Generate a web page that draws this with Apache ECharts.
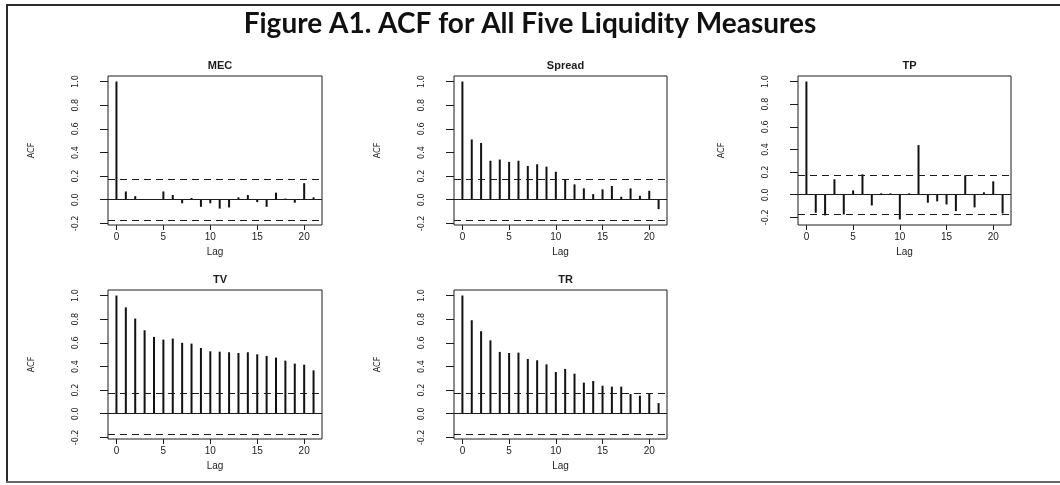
<!DOCTYPE html>
<html>
<head>
<meta charset="utf-8">
<script src="https://cdn.jsdelivr.net/npm/echarts@6/dist/echarts.min.js"></script>
<style>
html,body{margin:0;padding:0;background:#fff;}
#chart{width:1060px;height:485px;}
</style>
</head>
<body>
<div id="chart"></div>
<script>
// ---- data ----
const lags = [0,1,2,3,4,5,6,7,8,9,10,11,12,13,14,15,16,17,18,19,20,21];
const panelNames = ['MEC','Spread','TP','TV','TR'];
const mecAcf = [1.0,0.07,0.03,0.0,0.0,0.07,0.04,-0.03,0.015,-0.06,-0.03,-0.075,-0.065,0.02,0.04,-0.02,-0.06,0.06,0.01,-0.025,0.14,0.02];
const spreadAcf = [1.0,0.51,0.48,0.33,0.34,0.32,0.33,0.285,0.30,0.28,0.237,0.172,0.13,0.096,0.048,0.088,0.116,0.025,0.096,0.034,0.076,-0.079];
const tpAcf = [1.0,-0.16,-0.183,0.136,-0.175,0.038,0.18,-0.095,0.012,0.012,-0.219,0.012,0.438,-0.071,-0.059,-0.086,-0.145,0.172,-0.112,0.021,0.118,-0.166];
const tvAcf = [1.0,0.90,0.805,0.706,0.65,0.627,0.636,0.60,0.593,0.556,0.528,0.525,0.52,0.514,0.52,0.503,0.489,0.475,0.449,0.424,0.415,0.367];
const trAcf = [1.0,0.791,0.698,0.621,0.523,0.514,0.517,0.463,0.452,0.418,0.353,0.379,0.339,0.263,0.277,0.237,0.229,0.229,0.167,0.153,0.167,0.09];
const ciBound = 0.167;
const yTicks = [-0.2,0.0,0.2,0.4,0.6,0.8,1.0];
const xTicks = [0,5,10,15,20];
const titleText = 'Figure A1. ACF for All Five Liquidity Measures';

const allAcf = [mecAcf, spreadAcf, tpAcf, tvAcf, trAcf];

// ---- layout ----
const grids = [
  {left:108, top:76,  width:214, height:149},
  {left:454, top:76,  width:213, height:149},
  {left:798, top:76,  width:213, height:149},
  {left:108, top:290, width:214, height:149},
  {left:454, top:290, width:213, height:149}
];
// R-style limits: range extended by 4%
function yLimits(arr){
  const lo = Math.min(-ciBound, Math.min.apply(null, arr));
  const hi = 1.0;
  const ext = (hi - lo) * 0.04;
  return [lo - ext, hi + ext];
}
const xLo = -0.9, xHi = 21.9;
const ink = '#1c1c1c';
const axisFont = '"Liberation Sans", Arial, sans-serif';
const narrowFont = '"Liberation Sans Narrow", "DejaVu Sans Condensed", "Liberation Sans", sans-serif';

const option = {
  animation: false,
  backgroundColor: '#fff',
  title: [{
    text: titleText,
    left: 'center',
    top: 5,
    textStyle: {fontFamily: 'Lato, "Open Sans", sans-serif', fontWeight: 'bold', fontSize: 28, color: '#111'}
  }].concat(panelNames.map((n, i) => ({
    text: n,
    left: grids[i].left + grids[i].width / 2,
    top: grids[i].top - 21,
    textAlign: 'center',
    textStyle: {fontFamily: axisFont, fontWeight: 'bold', fontSize: 11, color: ink}
  }))),
  grid: grids.map(g => Object.assign({show: true, borderColor: ink, borderWidth: 1, backgroundColor: 'transparent'}, g)),
  xAxis: grids.map((g, i) => ({
    type: 'value', gridIndex: i, min: xLo, max: xHi,
    axisLine: {show: false, onZero: false},
    splitLine: {show: false},
    axisTick: {show: true, customValues: xTicks, length: 5, lineStyle: {color: ink}},
    axisLabel: {show: true, customValues: xTicks, margin: 7, fontSize: 10, color: ink, fontFamily: axisFont},
    name: 'Lag', nameLocation: 'middle', nameGap: 22,
    nameTextStyle: {fontSize: 10, color: ink, fontFamily: axisFont}
  })),
  yAxis: grids.map((g, i) => {
    const lim = yLimits(allAcf[i]);
    return {
      type: 'value', gridIndex: i, min: lim[0], max: lim[1],
      axisLine: {show: false, onZero: false},
      splitLine: {show: false},
      axisTick: {show: true, customValues: yTicks, length: 8, lineStyle: {color: ink}},
      axisLabel: {show: true, customValues: yTicks, rotate: 90, margin: 28, fontSize: 9, color: ink,
        fontFamily: narrowFont, formatter: v => Number(v).toFixed(1)},
      name: 'ACF', nameLocation: 'middle', nameRotate: 90, nameGap: 72,
      nameTextStyle: {fontSize: 9, color: ink, fontFamily: narrowFont}
    };
  }),
  series: allAcf.map((arr, i) => ({
    type: 'bar', xAxisIndex: i, yAxisIndex: i,
    barWidth: 2,
    itemStyle: {color: '#111'},
    data: lags.map((l, j) => [l, arr[j]]),
    markLine: {
      silent: true, symbol: 'none', label: {show: false},
      data: [
        {yAxis: 0, lineStyle: {type: 'solid', color: ink, width: 1}},
        {yAxis: ciBound, lineStyle: {type: [7, 5], color: ink, width: 1}},
        {yAxis: -ciBound, lineStyle: {type: [7, 5], color: ink, width: 1}}
      ]
    }
  })),
  graphic: [
    {type: 'line', shape: {x1: 6, y1: 5, x2: 1060, y2: 5}, style: {stroke: '#2a2a2a', lineWidth: 2}},
    {type: 'line', shape: {x1: 7, y1: 4, x2: 7, y2: 483}, style: {stroke: '#2a2a2a', lineWidth: 2}},
    {type: 'line', shape: {x1: 6, y1: 482, x2: 1060, y2: 482}, style: {stroke: '#666', lineWidth: 2}}
  ]
};

const chart = echarts.init(document.getElementById('chart'), null, {renderer: 'canvas'});
chart.setOption(option);
</script>
</body>
</html>
